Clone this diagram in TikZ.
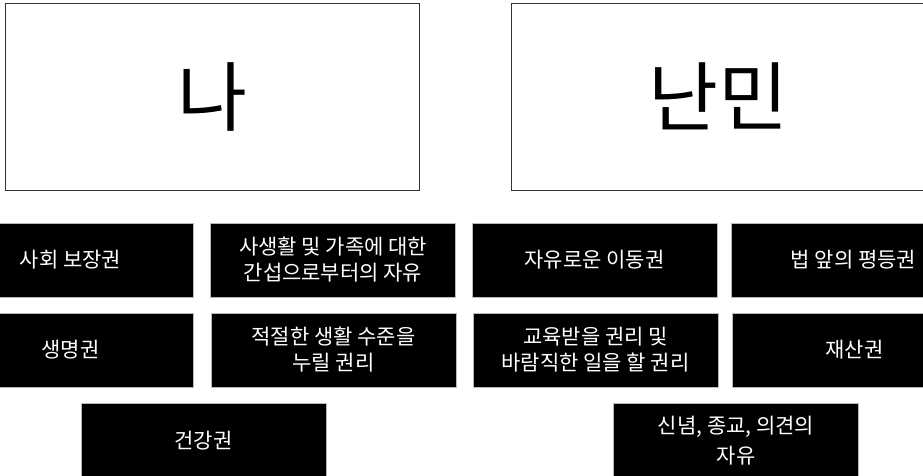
\documentclass[tikz,border=0pt]{standalone}
\usepackage{fontspec}
\newfontfamily\kr{Noto Sans CJK KR}
\begin{document}
\begin{tikzpicture}[x=1pt,y=-1pt,
  bigbox/.style={draw=black!80, line width=0.8pt, fill=white, inner sep=0pt,
    minimum width=414pt, minimum height=187pt, font=\kr\fontsize{76}{80}\selectfont},
  blk/.style={draw=gray!55, line width=0.6pt, fill=black, text=white, inner sep=0pt,
    align=center, minimum width=245pt, minimum height=74pt,
    font=\kr\fontsize{21}{26}\selectfont}]
\useasboundingbox (0,0) rectangle (923,476);
\clip (0,0) rectangle (923,476);
\node[bigbox] (me) at (212,96.5) {\raisebox{-6pt}{나}};
\node[bigbox] (refugee) at (718,96.5) {\raisebox{-6pt}{난민}};
% row 1
\node[blk] (r1a) at (70.5,260) {사회 보장권};
\node[blk] (r1b) at (333,260) {사생활 및 가족에 대한\\간섭으로부터의 자유};
\node[blk] (r1c) at (594.5,260) {자유로운 이동권};
\node[blk] (r1d) at (853.5,260) {법 앞의 평등권};
% row 2
\node[blk] (r2a) at (70.5,350) {생명권};
\node[blk] (r2b) at (333.5,350) {적절한 생활 수준을\\누릴 권리};
\node[blk] (r2c) at (595.5,350) {교육받을 권리 및\\바람직한 일을 할 권리};
\node[blk] (r2d) at (854.5,350) {재산권};
% row 3
\node[blk] (r3a) at (203.5,440.5) {건강권};
\node[blk, font=\kr\fontsize{21}{30}\selectfont] (r3b) at (736,440.5) {신념, 종교, 의견의\\자유};
\end{tikzpicture}
\end{document}
